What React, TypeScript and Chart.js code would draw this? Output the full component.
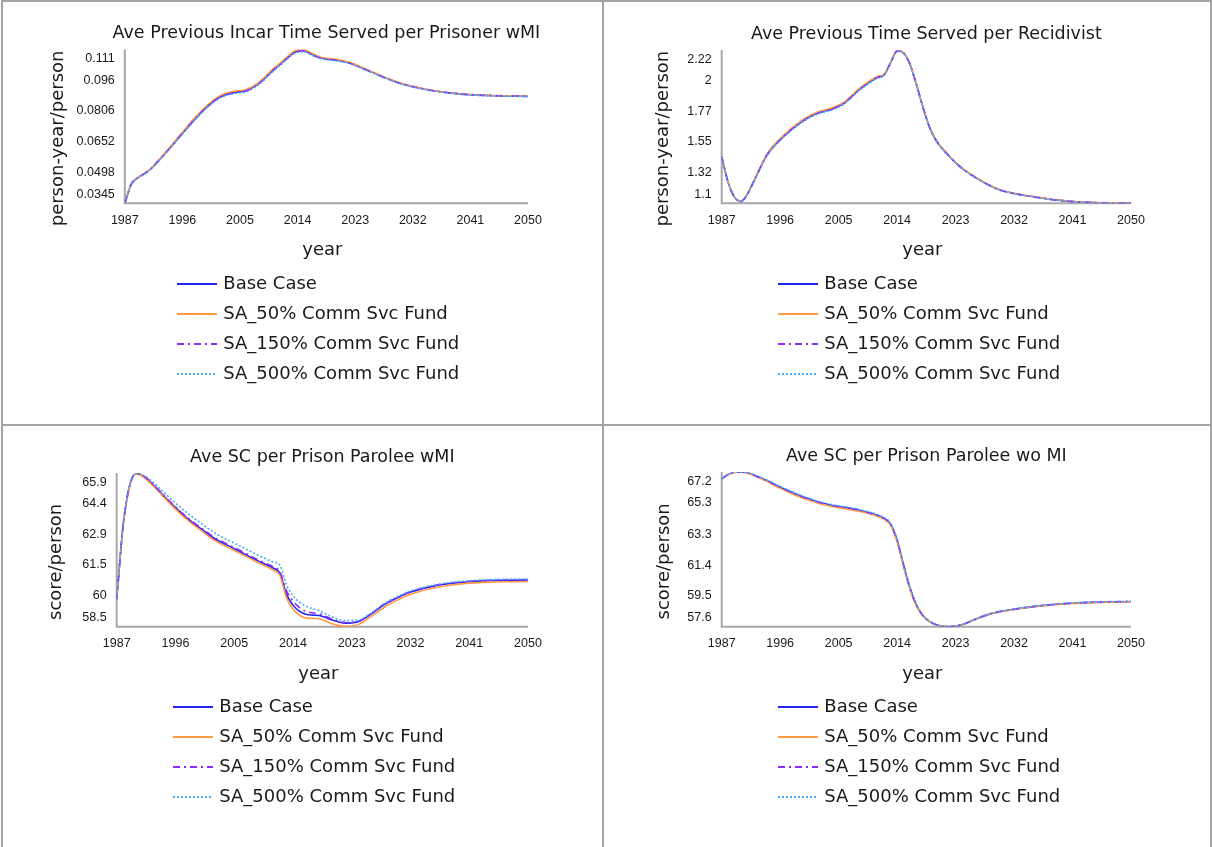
import React, { useEffect, useRef } from "react";
import { Chart, registerables } from "chart.js";

Chart.register(...registerables);

// ---------- data ----------
const YEARS = [1987, 1988, 1989, 1990, 1991, 1992, 1994, 1996, 1998, 2000, 2002, 2004, 2006, 2008, 2010, 2011, 2012, 2013, 2014, 2015, 2016, 2017, 2018, 2019, 2020, 2022, 2024, 2026, 2028, 2030, 2032, 2035, 2038, 2041, 2044, 2047, 2050];
const X_TICKS = [1987, 1996, 2005, 2014, 2023, 2032, 2041, 2050];
const X_TITLE = "year";
const SERIES_NAMES = ["Base Case", "SA_50% Comm Svc Fund", "SA_150% Comm Svc Fund", "SA_500% Comm Svc Fund"];

// Panel 1: Ave Previous Incar Time Served per Prisoner wMI
const P1_Y_TICKS = [0.0345, 0.0498, 0.0652, 0.0806, 0.096, 0.111];
const P1_BASE = [0.0345, 0.0440, 0.0472, 0.0492, 0.0515, 0.0548, 0.0620, 0.0695, 0.0768, 0.0832, 0.0878, 0.0898, 0.0908, 0.0945, 0.1005, 0.1032, 0.1060, 0.1088, 0.1105, 0.1107, 0.1093, 0.1078, 0.1068, 0.1064, 0.1060, 0.1047, 0.1022, 0.0995, 0.0968, 0.0945, 0.0928, 0.0908, 0.0895, 0.0887, 0.0883, 0.0881, 0.0879];
const P1_SA50 = [0.0345, 0.0441, 0.0473, 0.0494, 0.0517, 0.0551, 0.0624, 0.0700, 0.0774, 0.0838, 0.0884, 0.0904, 0.0913, 0.0950, 0.1011, 0.1038, 0.1066, 0.1094, 0.1111, 0.1112, 0.1098, 0.1082, 0.1072, 0.1068, 0.1064, 0.1050, 0.1025, 0.0997, 0.0970, 0.0947, 0.0929, 0.0909, 0.0896, 0.0888, 0.0884, 0.0882, 0.0880];
const P1_SA150 = [0.0345, 0.0440, 0.0472, 0.0492, 0.0515, 0.0548, 0.0619, 0.0694, 0.0767, 0.0831, 0.0877, 0.0897, 0.0907, 0.0944, 0.1004, 0.1031, 0.1059, 0.1087, 0.1104, 0.1106, 0.1092, 0.1077, 0.1067, 0.1063, 0.1059, 0.1046, 0.1021, 0.0994, 0.0967, 0.0944, 0.0927, 0.0908, 0.0895, 0.0887, 0.0883, 0.0881, 0.0879];
const P1_SA500 = [0.0345, 0.0438, 0.0470, 0.0490, 0.0513, 0.0545, 0.0616, 0.0690, 0.0762, 0.0826, 0.0872, 0.0892, 0.0902, 0.0939, 0.0999, 0.1026, 0.1054, 0.1082, 0.1099, 0.1101, 0.1088, 0.1073, 0.1063, 0.1060, 0.1056, 0.1044, 0.1019, 0.0992, 0.0966, 0.0943, 0.0926, 0.0907, 0.0894, 0.0886, 0.0882, 0.0880, 0.0878];

// Panel 2: Ave Previous Time Served per Recidivist
const P2_Y_TICKS = [1.1, 1.32, 1.55, 1.77, 2, 2.22];
const P2_BASE = [1.440, 1.250, 1.140, 1.112, 1.170, 1.265, 1.455, 1.565, 1.650, 1.718, 1.763, 1.790, 1.838, 1.925, 1.995, 2.022, 2.040, 2.130, 2.215, 2.200, 2.115, 1.965, 1.800, 1.655, 1.560, 1.445, 1.355, 1.290, 1.235, 1.193, 1.170, 1.146, 1.125, 1.111, 1.104, 1.100, 1.099];
const P2_SA50 = [1.440, 1.251, 1.141, 1.113, 1.173, 1.270, 1.462, 1.573, 1.658, 1.726, 1.771, 1.798, 1.846, 1.933, 2.002, 2.029, 2.046, 2.135, 2.219, 2.203, 2.117, 1.967, 1.802, 1.657, 1.562, 1.447, 1.357, 1.291, 1.236, 1.194, 1.171, 1.147, 1.126, 1.112, 1.105, 1.101, 1.099];
const P2_SA150 = [1.440, 1.250, 1.140, 1.112, 1.169, 1.264, 1.454, 1.564, 1.649, 1.717, 1.762, 1.789, 1.837, 1.924, 1.994, 2.021, 2.039, 2.129, 2.214, 2.199, 2.114, 1.964, 1.799, 1.654, 1.559, 1.444, 1.354, 1.289, 1.234, 1.192, 1.169, 1.145, 1.124, 1.110, 1.103, 1.099, 1.098];
const P2_SA500 = [1.439, 1.249, 1.139, 1.111, 1.166, 1.259, 1.448, 1.558, 1.643, 1.711, 1.756, 1.783, 1.831, 1.918, 1.989, 2.017, 2.035, 2.126, 2.212, 2.197, 2.112, 1.962, 1.797, 1.652, 1.557, 1.442, 1.352, 1.287, 1.232, 1.191, 1.168, 1.144, 1.123, 1.110, 1.103, 1.099, 1.098];

// Panel 3: Ave SC per Prison Parolee wMI
const P3_Y_TICKS = [58.5, 60, 61.5, 62.9, 64.4, 65.9];
const P3_BASE = [59.80, 63.40, 65.30, 65.86, 65.75, 65.50, 64.85, 64.22, 63.65, 63.18, 62.72, 62.40, 62.08, 61.75, 61.45, 61.30, 61.05, 60.05, 59.52, 59.22, 59.08, 59.04, 59.02, 58.92, 58.80, 58.65, 58.72, 59.10, 59.55, 59.88, 60.15, 60.40, 60.56, 60.65, 60.70, 60.72, 60.73];
const P3_SA50 = [59.80, 63.35, 65.28, 65.85, 65.72, 65.45, 64.80, 64.15, 63.58, 63.10, 62.64, 62.31, 62.00, 61.67, 61.37, 61.20, 60.95, 59.88, 59.33, 59.03, 58.90, 58.88, 58.86, 58.76, 58.62, 58.50, 58.58, 58.98, 59.42, 59.76, 60.04, 60.31, 60.48, 60.58, 60.63, 60.65, 60.66];
const P3_SA150 = [59.80, 63.42, 65.31, 65.86, 65.76, 65.52, 64.88, 64.26, 63.70, 63.23, 62.78, 62.45, 62.14, 61.81, 61.51, 61.36, 61.13, 60.22, 59.72, 59.40, 59.22, 59.15, 59.10, 58.98, 58.85, 58.68, 58.74, 59.12, 59.57, 59.90, 60.17, 60.42, 60.58, 60.67, 60.72, 60.74, 60.75];
const P3_SA500 = [59.80, 63.45, 65.33, 65.88, 65.80, 65.60, 65.02, 64.44, 63.92, 63.45, 63.00, 62.66, 62.36, 62.03, 61.73, 61.60, 61.45, 60.50, 59.98, 59.66, 59.47, 59.35, 59.25, 59.10, 58.95, 58.78, 58.80, 59.15, 59.60, 59.93, 60.20, 60.45, 60.61, 60.70, 60.75, 60.77, 60.78];

// Panel 4: Ave SC per Prison Parolee wo MI
const P4_Y_TICKS = [57.6, 59.5, 61.4, 63.3, 65.3, 67.2];
const P4_BASE = [66.78, 67.04, 67.18, 67.20, 67.14, 67.00, 66.65, 66.25, 65.90, 65.58, 65.32, 65.12, 64.99, 64.84, 64.63, 64.50, 64.32, 63.95, 62.95, 61.40, 59.95, 58.90, 58.25, 57.90, 57.70, 57.58, 57.70, 58.03, 58.33, 58.53, 58.66, 58.83, 58.95, 59.04, 59.09, 59.12, 59.14];
const P4_SA50 = [66.77, 67.03, 67.17, 67.19, 67.12, 66.97, 66.60, 66.18, 65.82, 65.50, 65.25, 65.05, 64.92, 64.77, 64.57, 64.44, 64.26, 63.88, 62.85, 61.30, 59.85, 58.84, 58.21, 57.88, 57.69, 57.58, 57.70, 58.02, 58.32, 58.52, 58.65, 58.82, 58.94, 59.03, 59.08, 59.11, 59.13];
const P4_SA150 = [66.78, 67.04, 67.18, 67.20, 67.14, 67.00, 66.65, 66.25, 65.90, 65.58, 65.32, 65.12, 64.99, 64.84, 64.63, 64.50, 64.32, 63.95, 62.96, 61.42, 59.97, 58.91, 58.26, 57.91, 57.71, 57.58, 57.71, 58.04, 58.34, 58.54, 58.67, 58.84, 58.96, 59.05, 59.10, 59.13, 59.15];
const P4_SA500 = [66.79, 67.05, 67.19, 67.20, 67.16, 67.03, 66.69, 66.30, 65.95, 65.63, 65.37, 65.17, 65.04, 64.89, 64.68, 64.55, 64.37, 64.01, 63.03, 61.50, 60.03, 58.96, 58.30, 57.93, 57.72, 57.59, 57.72, 58.05, 58.35, 58.55, 58.68, 58.85, 58.97, 59.06, 59.11, 59.14, 59.16];

// ---------- styles ----------
const SERIES_COLORS = ["#2424f0", "#ff9a40", "#8a2cff", "#46acff"];
const SERIES_DASH: number[][] = [[], [], [7, 4, 2, 4], [2, 2]];
const LINE_WIDTH = 1.6;
const LEGEND_LINE_WIDTH = 2;
const BORDER_COLOR = "#a3a3a3";
const AXIS_COLOR = "#a8a8a8";
const TEXT_COLOR = "#1a1a1a";
const TITLE_FONT = "17.5px 'DejaVu Sans', 'Liberation Sans', sans-serif";
const AXIS_FONT = "18px 'DejaVu Sans', 'Liberation Sans', sans-serif";
const LEGEND_FONT = "18px 'DejaVu Sans', 'Liberation Sans', sans-serif";
const TICK_FONT = "12.5px 'Liberation Sans', Arial, sans-serif";

type Panel = {
  title: string;
  yTitle: string;
  yTicks: number[];
  yMin: number;
  yMax: number;
  series: number[][];
  cell: { x: number; y: number; w: number; h: number };
  plot: { l: number; t: number; r: number; b: number };
  yTitleX: number;
  legendX: number;
};

const PANELS: Panel[] = [
  {
    title: "Ave Previous Incar Time Served per Prisoner wMI",
    yTitle: "person-year/person",
    yTicks: P1_Y_TICKS,
    yMin: 0.0345,
    yMax: 0.1113,
    series: [P1_BASE, P1_SA50, P1_SA150, P1_SA500],
    cell: { x: 3, y: 2, w: 599, h: 422 },
    plot: { l: 124.8, t: 49.5, r: 528, b: 203.3 },
    yTitleX: 58,
    legendX: 176.7,
  },
  {
    title: "Ave Previous Time Served per Recidivist",
    yTitle: "person-year/person",
    yTicks: P2_Y_TICKS,
    yMin: 1.098,
    yMax: 2.222,
    series: [P2_BASE, P2_SA50, P2_SA150, P2_SA500],
    cell: { x: 604, y: 2, w: 606, h: 422 },
    plot: { l: 721.7, t: 50, r: 1131, b: 203.3 },
    yTitleX: 663.5,
    legendX: 778,
  },
  {
    title: "Ave SC per Prison Parolee wMI",
    yTitle: "score/person",
    yTicks: P3_Y_TICKS,
    yMin: 58.48,
    yMax: 65.89,
    series: [P3_BASE, P3_SA50, P3_SA150, P3_SA500],
    cell: { x: 3, y: 426, w: 599, h: 421 },
    plot: { l: 116.7, t: 473, r: 528, b: 626.7 },
    yTitleX: 56.5,
    legendX: 172.7,
  },
  {
    title: "Ave SC per Prison Parolee wo MI",
    yTitle: "score/person",
    yTicks: P4_Y_TICKS,
    yMin: 57.58,
    yMax: 67.2,
    series: [P4_BASE, P4_SA50, P4_SA150, P4_SA500],
    cell: { x: 604, y: 426, w: 606, h: 421 },
    plot: { l: 721.7, t: 472, r: 1131, b: 626.7 },
    yTitleX: 664,
    legendX: 778,
  },
];

function makeDecor(p: Panel) {
  return {
    id: "decor",
    beforeDatasetsDraw(chart: any) {
      const { ctx, chartArea: a } = chart;
      ctx.save();
      ctx.strokeStyle = AXIS_COLOR;
      ctx.lineWidth = 2;
      ctx.beginPath();
      ctx.moveTo(a.left, a.top);
      ctx.lineTo(a.left, a.bottom);
      ctx.lineTo(a.right, a.bottom);
      ctx.stroke();
      ctx.restore();
    },
    afterDraw(chart: any) {
      const { ctx, chartArea: a, scales } = chart;
      const xs = scales.x;
      const ys = scales.y;
      const cx = (a.left + a.right) / 2;
      ctx.save();
      ctx.fillStyle = TEXT_COLOR;
      ctx.textBaseline = "middle";

      // title
      ctx.font = TITLE_FONT;
      ctx.textAlign = "center";
      ctx.fillText(p.title, cx, a.top - 16);

      // x tick labels
      ctx.font = TICK_FONT;
      ctx.textAlign = "center";
      X_TICKS.forEach((v) => {
        ctx.fillText(String(v), xs.getPixelForValue(v), a.bottom + 17);
      });

      // y tick labels (edge labels kept inside the axis span)
      ctx.textAlign = "right";
      p.yTicks.forEach((v) => {
        let y = ys.getPixelForValue(v);
        y = Math.min(Math.max(y, a.top + 9.5), a.bottom - 9);
        ctx.fillText(String(v), a.left - 10, y);
      });

      // x axis title
      ctx.font = AXIS_FONT;
      ctx.textAlign = "center";
      ctx.fillText(X_TITLE, cx - 4, a.bottom + 47.5);

      // y axis title
      ctx.save();
      ctx.translate(p.yTitleX - p.cell.x, (a.top + a.bottom) / 2 + 12);
      ctx.rotate(-Math.PI / 2);
      ctx.fillText(p.yTitle, 0, 0);
      ctx.restore();

      // legend
      const lx = Math.round(p.legendX - p.cell.x);
      ctx.font = LEGEND_FONT;
      ctx.textAlign = "left";
      SERIES_NAMES.forEach((name, i) => {
        const y = Math.round(a.bottom + 80.2 + 30 * i);
        ctx.save();
        ctx.strokeStyle = SERIES_COLORS[i];
        ctx.lineWidth = LEGEND_LINE_WIDTH;
        ctx.setLineDash(SERIES_DASH[i]);
        ctx.beginPath();
        ctx.moveTo(lx, y);
        ctx.lineTo(lx + 40, y);
        ctx.stroke();
        ctx.restore();
        ctx.fillText(name, lx + 46.3, y);
      });
      ctx.restore();
    },
  };
}

function PanelChart({ p }: { p: Panel }) {
  const ref = useRef<HTMLCanvasElement | null>(null);
  useEffect(() => {
    if (!ref.current) return;
    const datasets = p.series.map((vals, i) => ({
      label: SERIES_NAMES[i],
      data: YEARS.map((yr, k) => ({ x: yr, y: vals[k] })),
      borderColor: SERIES_COLORS[i],
      backgroundColor: SERIES_COLORS[i],
      borderWidth: LINE_WIDTH,
      borderDash: SERIES_DASH[i],
      pointRadius: 0,
      fill: false,
      cubicInterpolationMode: "monotone" as const,
      order: 4 - i,
    }));
    const chart = new Chart(ref.current, {
      type: "line",
      data: { datasets },
      options: {
        animation: false,
        responsive: false,
        maintainAspectRatio: false,
        events: [],
        layout: {
          padding: {
            left: p.plot.l - p.cell.x,
            top: p.plot.t - p.cell.y,
            right: p.cell.x + p.cell.w - p.plot.r,
            bottom: p.cell.y + p.cell.h - p.plot.b,
          },
        },
        plugins: {
          legend: { display: false },
          title: { display: false },
          tooltip: { enabled: false },
        },
        scales: {
          x: { type: "linear", display: false, min: 1987, max: 2050 },
          y: { type: "linear", display: false, min: p.yMin, max: p.yMax },
        },
      },
      plugins: [makeDecor(p)],
    } as any);
    return () => chart.destroy();
  }, [p]);
  return (
    <canvas
      ref={ref}
      width={p.cell.w}
      height={p.cell.h}
      style={{ position: "absolute", left: p.cell.x, top: p.cell.y, width: p.cell.w, height: p.cell.h }}
    />
  );
}

const line = (left: number, top: number, width: number, height: number) => (
  <div style={{ position: "absolute", left, top, width, height, background: BORDER_COLOR }} />
);

export default function App() {
  return (
    <div style={{ position: "absolute", left: 0, top: 0, width: 1212, height: 847, background: "#ffffff", overflow: "hidden" }}>
      {PANELS.map((p, i) => (
        <PanelChart key={i} p={p} />
      ))}
      {line(1, 0, 1211, 2)}
      {line(1, 0, 2, 847)}
      {line(602, 0, 2, 847)}
      {line(1210, 0, 2, 847)}
      {line(1, 424, 1211, 2)}
    </div>
  );
}
